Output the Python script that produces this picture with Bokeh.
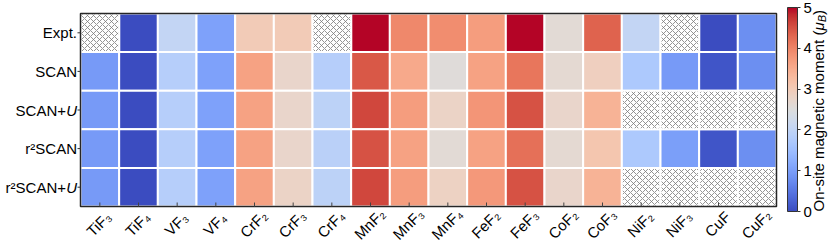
import math
from bokeh.plotting import figure
from bokeh.models import (ColumnDataSource, LinearColorMapper, ColorBar, FixedTicker, Range1d)
from bokeh.core.properties import value
from bokeh.embed import file_html
from bokeh.resources import INLINE

# ---------------- data ----------------
compounds = ["TiF₃", "TiF₄", "VF₃", "VF₄", "CrF₂", "CrF₃", "CrF₄", "MnF₂", "MnF₃",
             "MnF₄", "FeF₂", "FeF₃", "CoF₂", "CoF₃", "NiF₂", "NiF₃", "CuF", "CuF₂"]
methods = ["Expt.", "SCAN", "SCAN+U", "r²SCAN", "r²SCAN+U"]
nan = None
expt = [nan, 0.0, 2.05, 1.05, 3.0, 3.0, nan, 5.0, 3.95, 3.9, 3.7, 5.0, 2.6, 4.35, 2.05, nan, 0.0, 0.8]
scan = [0.95, 0.0, 1.85, 1.05, 3.65, 2.75, 1.85, 4.45, 3.55, 2.55, 3.65, 4.15, 2.65, 2.9, 1.7, 0.95, 0.1, 0.8]
scan_u = [0.95, 0.0, 1.85, 1.05, 3.65, 2.75, 1.95, 4.6, 3.7, 2.8, 3.8, 4.5, 2.75, 3.4, nan, nan, nan, nan]
r2scan = [0.95, 0.0, 1.85, 1.05, 3.65, 2.75, 1.9, 4.5, 3.65, 2.6, 3.65, 4.2, 2.65, 3.1, 1.7, 1.0, 0.1, 0.8]
r2scan_u = [0.95, 0.0, 1.85, 1.05, 3.65, 2.8, 1.95, 4.6, 3.7, 2.85, 3.75, 4.5, 2.75, 3.4, nan, nan, nan, nan]
table = [expt, scan, scan_u, r2scan, r2scan_u]
cbar_ticks = [0, 1, 2, 3, 4, 5]
cbar_title = ["On-site magnetic moment (", "μ", "B", ")"]

# ---------------- coolwarm palette ----------------
_cw = [(0.2298057, 0.298717966, 0.753683153), (0.26623388, 0.353094838, 0.801466763),
       (0.30386891, 0.406535296, 0.84495867), (0.342804478, 0.458757618, 0.883725899),
       (0.38301334, 0.50941904, 0.917387822), (0.424369608, 0.558148092, 0.945619588),
       (0.46666708, 0.604562568, 0.968154911), (0.509635204, 0.648280772, 0.98478814),
       (0.552953156, 0.688929332, 0.995375608), (0.596262162, 0.726149107, 0.999836203),
       (0.639176211, 0.759599947, 0.998151185), (0.681291281, 0.788964712, 0.990363227),
       (0.722193294, 0.813952739, 0.976574709), (0.761464949, 0.834302879, 0.956945269),
       (0.798691636, 0.849786142, 0.931688648), (0.833466556, 0.860207984, 0.901068838),
       (0.865395197, 0.86541021, 0.865395561), (0.897787179, 0.848937047, 0.820970427),
       (0.924127593, 0.827384882, 0.774508472), (0.944468518, 0.800927443, 0.726736146),
       (0.958852946, 0.769767752, 0.678007945), (0.96732803, 0.734132809, 0.628751763),
       (0.969954137, 0.694266682, 0.579375448), (0.966811177, 0.650421156, 0.530263762),
       (0.958003065, 0.602842431, 0.481775914), (0.943660866, 0.551750968, 0.434243684),
       (0.923944917, 0.49730856, 0.387970225), (0.89904617, 0.439559467, 0.343229596),
       (0.869186849, 0.378313092, 0.300267182), (0.834620542, 0.312874446, 0.259301199),
       (0.795631745, 0.24128379, 0.220525627), (0.752534934, 0.157246067, 0.184115123),
       (0.705673158, 0.01555616, 0.150232812)]


def coolwarm(n=256):
    out = []
    m = len(_cw) - 1
    for i in range(n):
        t = i / (n - 1) * m
        k = min(int(t), m - 1)
        f = t - k
        c = [(_cw[k][j] * (1 - f) + _cw[k + 1][j] * f) for j in range(3)]
        out.append("#%02x%02x%02x" % tuple(int(round(v * 255)) for v in c))
    return out


palette = coolwarm()
mapper = LinearColorMapper(palette=palette, low=0, high=5)

# ---------------- layout geometry (pixels) ----------------
W, H = 830, 245
FL, FR, FT, FB = 80, 776, 13, 206          # heat-map box
ncol, nrow = len(compounds), len(methods)
sx = (FR - FL) / ncol
sy = (FB - FT) / nrow
x0 = -0.5 - FL / sx
x1 = ncol - 0.5 + (W - FR) / sx
y0 = -0.5 - (H - FB) / sy
y1 = nrow - 0.5 + FT / sy

FONT = value("Liberation Sans")
p = figure(width=W, height=H, output_backend="svg", toolbar_location=None,
           x_range=Range1d(x0, x1), y_range=Range1d(y0, y1),
           min_border=0, min_border_left=0, min_border_right=0,
           min_border_top=0, min_border_bottom=0)
p.axis.visible = False
p.grid.visible = False
p.outline_line_color = None
p.background_fill_color = "white"
p.border_fill_color = "white"

xs, ys, vals, hx, hy = [], [], [], [], []
for r, row in enumerate(table):
    for c, v in enumerate(row):
        y = nrow - 1 - r
        if v is None:
            hx.append(c)
            hy.append(y)
        else:
            xs.append(c)
            ys.append(y)
            vals.append(v)

# heat-map cells
src = ColumnDataSource(dict(x=xs, y=ys, v=vals))
p.rect("x", "y", width=1, height=1, source=src,
       fill_color={"field": "v", "transform": mapper}, line_color="white", line_width=2)
# missing values: hatched cells
hsrc = ColumnDataSource(dict(x=hx, y=hy))
p.rect("x", "y", width=1, height=1, source=hsrc, fill_color="white",
       hatch_pattern="diagonal_cross", hatch_color="#7a7a7a", hatch_scale=6,
       hatch_weight=0.8, line_color="white", line_width=2)

# frame box
p.rect(x=[(ncol - 1) / 2], y=[(nrow - 1) / 2], width=ncol, height=nrow,
       fill_alpha=0, line_color="#262626", line_width=1.5)

# ticks
cols_idx = list(range(ncol))
p.segment(x0=cols_idx, y0=[-0.5] * ncol, x1=cols_idx, y1=[-0.5 + 4 / sy] * ncol,
          line_color="#444444", line_width=1)
rows_idx = list(range(nrow))
p.segment(x0=[-0.5 - 3 / sx] * nrow, y0=rows_idx, x1=[-0.5] * nrow, y1=rows_idx,
          line_color="#333333", line_width=1)

# row labels (italic U)
lx = -0.5 - 3.5 / sx
plain_t, plain_x, plain_y = [], [], []
ital_t, ital_x, ital_y = [], [], []
for r, name in enumerate(methods):
    y = nrow - 1 - r
    if name.endswith("+U"):
        ital_t.append("U"); ital_x.append(lx); ital_y.append(y)
        plain_t.append(name[:-1]); plain_x.append(lx - 11 / sx); plain_y.append(y)
    else:
        plain_t.append(name); plain_x.append(lx); plain_y.append(y)
p.text(x=plain_x, y=plain_y, text=plain_t, text_align="right", text_baseline="middle",
       text_font=FONT, text_font_size="15px", text_color="black")
p.text(x=ital_x, y=ital_y, text=ital_t, text_align="right", text_baseline="middle",
       text_font=FONT, text_font_size="15px", text_font_style="italic", text_color="black")

# column labels
p.text(x=[c - 1.0 / sx for c in cols_idx], y=[-0.5 - 17.5 / sy] * ncol, text=compounds,
       angle=math.pi / 4, text_align="center", text_baseline="middle",
       text_font=FONT, text_font_size="15px", text_color="black")

# colour bar
cb = ColorBar(color_mapper=mapper, ticker=FixedTicker(ticks=cbar_ticks), width=10, height=204,
              padding=0, margin=0, location=(787, H - 211), major_tick_in=0, major_tick_out=3,
              major_tick_line_color="#333", bar_line_color="#333", label_standoff=3,
              major_label_text_font="Liberation Sans", major_label_text_font_size="15px",
              major_label_text_color="black",
              background_fill_alpha=0, border_line_color=None)
p.add_layout(cb)

# colour bar title (rotated, italic mu with subscript B)
tx = ncol - 0.5 + (818 - FR) / sx
def py(page_y):
    return nrow - 0.5 - (page_y - FT) / sy
starts = [211, 30.1, 21.5, 14.5]
styles = ["normal", "italic", "italic", "normal"]
sizes = ["15px", "15px", "10.5px", "15px"]
dxs = [0, 0, 3, 0]
for t, s0, st, sz, dx in zip(cbar_title, starts, styles, sizes, dxs):
    p.text(x=[tx + dx / sx], y=[py(s0)], text=[t], angle=math.pi / 2,
           text_align="left", text_baseline="middle", text_font=FONT,
           text_font_size=sz, text_font_style=st, text_color="black")

open("out.html", "w").write(file_html(p, INLINE))
